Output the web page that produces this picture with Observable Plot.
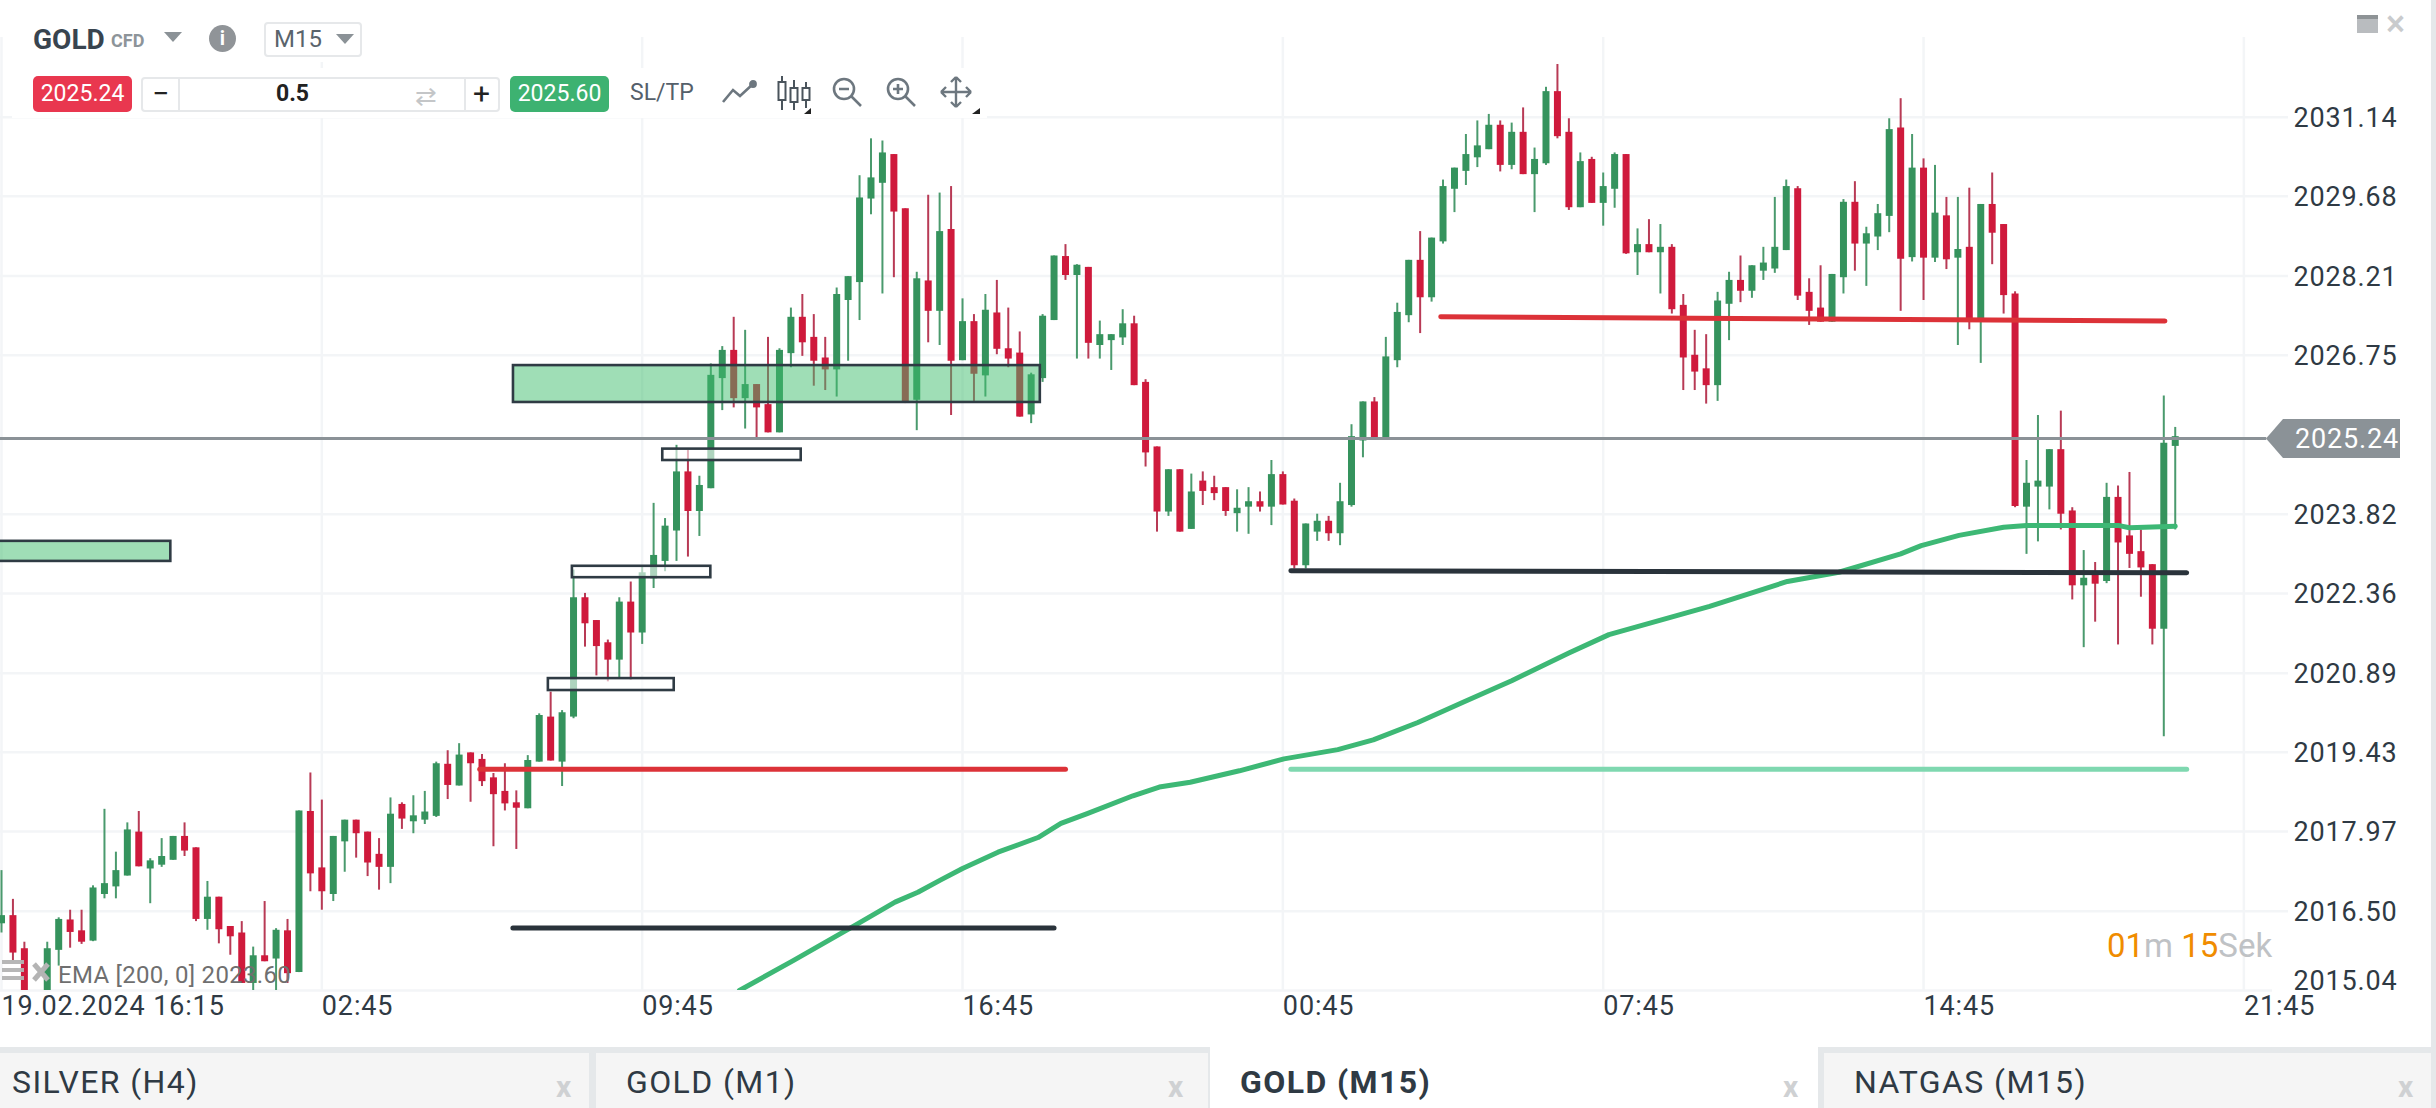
<!DOCTYPE html>
<html><head><meta charset="utf-8">
<script src="https://cdn.jsdelivr.net/npm/d3@7"></script>
<script src="https://cdn.jsdelivr.net/npm/@observablehq/plot@0.6"></script>
<style>
html,body{margin:0;padding:0;background:#fff;overflow:hidden}
#page{position:relative;width:2436px;height:1108px;overflow:hidden;font-family:Roboto,sans-serif;color:#2f3a44}
#page svg.plot{display:block}
.abs{position:absolute;white-space:nowrap}
.tri{position:absolute;width:0;height:0;border-left:9px solid transparent;border-right:9px solid transparent;border-top:10px solid #8b9297}
.btn{position:absolute;top:76px;width:99px;height:36px;line-height:36px;border-radius:5px;color:#fff;font-size:23px;text-align:center}
.tab{position:absolute;top:1053px;height:55px;background:#f5f5f5}
.tabt{position:absolute;top:1063px;font-size:32px;letter-spacing:1.4px;color:#2f3a44;white-space:nowrap}
.x{position:absolute;top:1069px;font-size:30px;color:#cfd1d3;font-weight:700}
</style></head><body><div id="page"><div id="chart"></div></div>
<script>
const opens=[
2016.27,2016.42,2015.81,2014.30,2014.92,2015.78,2016.34,2016.14,2015.95,2016.81,
2016.95,2017.15,2017.96,2017.28,2017.35,2017.44,2017.88,2017.67,2016.35,2016.76,
2016.22,2016.10,2015.17,2015.68,2015.62,2016.14,2015.37,2018.34,2017.30,2016.81,
2017.78,2018.18,2017.96,2017.55,2017.31,2018.47,2018.15,2018.18,2018.25,2019.21,
2018.81,2019.42,2019.30,2018.96,2018.71,2018.50,2018.39,2019.25,2020.08,2019.25,
2020.08,2022.28,2021.86,2021.45,2021.13,2022.20,2021.63,2022.63,2022.95,2023.51,
2024.60,2023.87,2024.29,2026.32,2026.84,2025.95,2026.21,2025.84,2025.32,2026.78,
2027.45,2027.08,2026.70,2026.48,2027.76,2028.09,2029.63,2029.92,2030.45,2029.45,
2025.92,2028.12,2027.56,2029.07,2026.65,2027.37,2026.37,2027.53,2026.87,2026.79,
2025.65,2026.32,2027.39,2028.57,2028.22,2028.37,2026.93,2027.02,2027.07,2027.33,
2026.25,2025.06,2023.86,2024.64,2023.54,2024.43,2024.31,2024.31,2023.83,2023.95,
2024.05,2023.95,2024.55,2024.06,2022.87,2023.49,2023.69,2023.46,2023.98,2025.17,
2025.89,2025.23,2026.65,2027.48,2028.50,2027.81,2028.84,2029.81,2030.14,2030.39,
2030.54,2030.99,2030.25,2030.86,2030.08,2030.28,2031.61,2030.86,2029.47,2030.36,
2029.55,2029.81,2030.45,2028.64,2028.79,2028.64,2028.74,2027.67,2026.75,2026.50,
2026.19,2027.69,2028.13,2027.93,2028.30,2028.34,2028.68,2029.82,2027.91,2027.62,
2027.36,2028.18,2029.57,2028.80,2028.93,2029.31,2030.94,2028.55,2030.20,2028.54,
2029.32,2028.54,2028.74,2027.42,2029.53,2029.16,2027.88,2023.95,2024.32,2024.32,
2025.01,2023.88,2022.50,2022.69,2022.58,2024.13,2023.42,2023.13,2022.89,2021.70,2025.07];
const closes=[
2016.42,2015.73,2014.92,2014.70,2015.81,2016.35,2016.11,2015.93,2016.93,2017.01,
2017.25,2018.00,2017.32,2017.43,2017.51,2017.88,2017.61,2016.35,2016.76,2016.16,
2016.03,2015.17,2015.68,2015.57,2016.15,2015.35,2018.35,2017.19,2016.86,2017.88,
2018.18,2017.93,2017.39,2017.31,2018.29,2018.20,2018.26,2018.33,2019.22,2018.82,
2019.38,2019.22,2018.89,2018.65,2018.48,2018.40,2019.28,2020.11,2019.27,2020.16,
2022.28,2021.80,2021.38,2021.13,2022.20,2021.63,2022.74,2023.06,2023.60,2024.60,
2023.87,2024.35,2026.38,2026.84,2025.95,2026.21,2025.78,2025.32,2026.84,2027.45,
2026.98,2026.64,2026.48,2027.87,2028.20,2029.65,2030.02,2030.48,2029.39,2025.86,
2028.16,2027.56,2029.03,2026.64,2027.37,2026.40,2027.58,2026.86,2026.68,2025.61,
2026.39,2027.47,2028.58,2028.22,2028.41,2026.97,2027.13,2027.13,2027.33,2026.19,
2024.95,2023.86,2024.64,2023.49,2024.23,2024.24,2024.20,2023.87,2023.93,2024.05,
2023.95,2024.55,2023.99,2022.87,2023.64,2023.69,2023.46,2024.05,2025.25,2025.89,
2025.23,2026.72,2027.54,2028.50,2027.81,2028.91,2029.86,2030.20,2030.45,2030.61,
2030.99,2030.25,2030.86,2030.08,2030.36,2031.61,2030.78,2029.47,2030.32,2029.55,
2029.86,2030.45,2028.62,2028.79,2028.64,2028.74,2027.59,2026.70,2026.44,2026.19,
2027.75,2028.13,2027.93,2028.40,2028.45,2028.74,2029.86,2027.84,2027.56,2027.36,
2028.24,2029.57,2028.80,2028.99,2029.36,2030.91,2028.52,2030.20,2028.54,2029.37,
2028.51,2028.70,2027.38,2029.53,2029.00,2027.85,2023.96,2024.39,2024.43,2025.01,
2023.82,2022.50,2022.64,2022.53,2024.13,2023.29,2023.08,2022.83,2021.70,2025.13,2025.25];
const highs=[
2017.25,2016.72,2015.93,2014.85,2015.93,2016.38,2016.52,2016.52,2016.97,2018.38,
2017.59,2018.13,2018.34,2017.47,2017.84,2017.88,2018.13,2017.67,2017.05,2016.76,
2016.22,2016.31,2015.84,2016.68,2016.18,2016.35,2018.35,2019.05,2018.55,2017.88,
2018.18,2018.18,2017.96,2017.84,2018.59,2018.50,2018.63,2018.71,2019.25,2019.46,
2019.59,2019.42,2019.39,2019.04,2019.22,2018.72,2019.37,2020.14,2020.54,2020.20,
2022.79,2022.36,2021.86,2021.50,2022.28,2022.57,2022.85,2024.02,2023.74,2025.09,
2025.00,2024.52,2026.59,2026.91,2027.45,2027.21,2026.21,2027.08,2026.87,2027.62,
2027.87,2027.50,2027.08,2027.99,2028.20,2030.06,2030.74,2030.70,2030.45,2029.45,
2028.28,2029.70,2029.74,2029.86,2027.79,2027.50,2027.87,2028.13,2027.62,2027.18,
2026.42,2027.50,2028.58,2028.79,2028.42,2028.37,2027.38,2027.13,2027.59,2027.47,
2026.30,2025.06,2024.64,2024.64,2024.56,2024.60,2024.52,2024.31,2024.27,2024.31,
2024.23,2024.81,2024.60,2024.10,2023.64,2023.82,2023.78,2024.39,2025.47,2025.89,
2025.97,2027.08,2027.71,2028.50,2029.03,2028.91,2029.98,2030.20,2030.82,2031.07,
2031.19,2031.07,2031.03,2031.31,2030.57,2031.69,2032.11,2031.11,2030.48,2030.40,
2030.11,2030.48,2030.45,2029.08,2029.25,2029.16,2028.79,2027.87,2027.21,2027.13,
2027.91,2028.28,2028.58,2028.40,2028.74,2029.66,2029.98,2029.86,2028.16,2028.40,
2028.24,2029.62,2029.95,2029.11,2029.53,2031.11,2031.48,2030.82,2030.37,2030.25,
2029.66,2029.66,2029.83,2029.53,2030.11,2029.16,2027.92,2024.81,2025.64,2025.01,
2025.72,2023.94,2023.15,2022.93,2024.39,2024.34,2024.59,2023.53,2022.89,2026.00,2025.42];
const lows=[
2016.10,2015.59,2014.86,2014.10,2014.73,2015.49,2015.82,2015.89,2015.94,2016.73,
2016.73,2017.15,2017.32,2016.64,2017.31,2017.44,2017.51,2016.31,2016.15,2015.90,
2015.69,2015.17,2014.92,2015.57,2014.86,2015.17,2015.37,2016.86,2016.52,2016.68,
2017.22,2017.48,2017.14,2016.89,2017.01,2018.01,2017.93,2018.10,2018.23,2018.56,
2018.81,2018.51,2018.80,2017.69,2018.35,2017.64,2018.39,2019.25,2019.27,2018.80,
2020.05,2021.37,2020.84,2020.73,2020.79,2020.76,2021.42,2022.45,2022.76,2022.95,
2023.03,2023.41,2024.29,2025.73,2025.78,2025.39,2025.18,2025.32,2025.32,2026.52,
2026.73,2026.18,2026.10,2025.98,2026.64,2027.39,2029.34,2027.88,2028.18,2025.86,
2025.36,2026.98,2026.93,2025.64,2026.65,2025.90,2025.98,2026.76,2026.52,2025.61,
2025.49,2026.25,2027.39,2028.13,2026.68,2026.68,2026.68,2026.47,2026.93,2026.19,
2024.69,2023.49,2023.78,2023.49,2023.54,2023.98,2024.07,2023.78,2023.49,2023.45,
2023.86,2023.61,2023.99,2022.81,2022.81,2023.32,2023.32,2023.24,2023.95,2024.86,
2025.23,2025.23,2026.52,2027.35,2027.15,2027.73,2028.80,2029.38,2029.88,2030.21,
2030.54,2030.13,2030.17,2030.08,2029.38,2030.25,2030.74,2029.42,2029.47,2029.55,
2029.13,2029.46,2028.61,2028.22,2028.64,2027.88,2027.51,2026.10,2026.10,2025.85,
2025.90,2027.02,2027.72,2027.80,2028.13,2028.26,2028.68,2027.76,2027.30,2027.36,
2027.36,2027.88,2028.30,2028.02,2028.68,2029.01,2027.56,2028.47,2027.76,2028.46,
2028.33,2026.93,2027.22,2026.60,2028.42,2027.51,2023.94,2023.08,2023.31,2023.90,
2023.53,2022.24,2021.36,2021.83,2022.54,2021.41,2022.82,2022.29,2021.41,2019.72,2023.53];

const emaIndex=[64.5,69.2,74.6,78.1,80.1,82.1,84,87.1,90.6,92.6,94.9,98.9,101.2,103.9,108.2,112.1,116.8,119.9,123.8,127.7,132,137,140.5,149.3,156.1,160.6,166,167.8,171.1,175,177,185.1,186,190];
const emaValue=[2015.04,2015.59,2016.24,2016.67,2016.85,2017.08,2017.29,2017.59,2017.86,2018.12,2018.30,2018.63,2018.79,2018.88,2019.09,2019.31,2019.48,2019.66,2019.98,2020.35,2020.75,2021.26,2021.60,2022.12,2022.58,2022.75,2023.09,2023.24,2023.43,2023.58,2023.61,2023.61,2023.57,2023.60];

const priceTicks=[2031.14,2029.68,2028.21,2026.75,2023.82,2022.36,2020.89,2019.43,2017.97,2016.50];
const lastPriceTick=[2015.04];
const timeTicks=[0,28,56,84,112,140,168,196];
const timeLabels=["19.02.2024 16:15","02:45","09:45","16:45","00:45","07:45","14:45","21:45"];

const currentPrice=2025.24, bidText="2025.24", askText="2025.60";

// support / resistance lines: start index, start price, end index, end price
const lineStart=[41.8,44.7,112.7,112.7,125.8];
const lineEnd=[93.0,92.0,191.0,191.0,189.1];
const lineP1=[2019.12,2016.19,2019.12,2022.78,2027.46];
const lineP2=[2019.12,2016.19,2019.12,2022.74,2027.38];
const lineColor=["#dc3238","#2a333b","#7fd8b0","#2a333b","#dc3238"];

// supply / demand zones
const zoneStart=[44.75,-2,57.8,49.9,47.8];
const zoneEnd=[90.8,14.8,69.9,62,58.8];
const zoneTop=[2026.56,2023.32,2025.02,2022.86,2020.79];
const zoneBottom=[2025.88,2022.95,2024.81,2022.65,2020.57];
const zoneFill=["#40bd6e","#40bd6e","#ffffff","#ffffff","#ffffff"];
const zoneAlpha=[0.5,0.5,0.6,0.6,0.6];

const candles=opens.map((o,i)=>({i,open:o,close:closes[i],high:highs[i],low:lows[i],up:closes[i]>=o}));
const lines=lineStart.map((s,k)=>({s,e:lineEnd[k],p1:lineP1[k],p2:lineP2[k],c:lineColor[k]}));
const zones=zoneStart.map((s,k)=>({s,e:zoneEnd[k],t:zoneTop[k],b:zoneBottom[k],f:zoneFill[k],a:zoneAlpha[k]}));

const UP="#35935d",UPW="#4a9a6d",DN="#cf1a3c",DNW="#b83a55";
const gridC="#f3f5f7";

const chart=Plot.plot({
  width:2436,height:1047,marginLeft:0,marginRight:148,marginTop:0,marginBottom:57,
  style:{fontFamily:"Roboto, sans-serif",background:"#fff",color:"#2f3a44",letterSpacing:"0.85px",overflow:"hidden"},
  x:{type:"linear",domain:[-0.087,199.9]},
  y:{type:"linear",domain:[2015.04,2033.29]},
  marks:[
    Plot.gridX(timeTicks,{stroke:gridC,strokeOpacity:1,strokeWidth:2.5}),
    Plot.gridY(priceTicks,{stroke:gridC,strokeOpacity:1,strokeWidth:2.5}),
    Plot.ruleY(lastPriceTick,{x1:-0.087,x2:198.5,stroke:gridC,strokeWidth:2.5}),
    Plot.ruleX(candles,{x:"i",y1:"low",y2:"high",stroke:d=>d.up?UPW:DNW,strokeWidth:2,clip:true}),
    Plot.ruleX(candles,{x:"i",y1:"open",y2:"close",stroke:d=>d.up?UP:DN,strokeWidth:7,clip:true}),
    Plot.line(emaIndex,{x:emaIndex,y:emaValue,stroke:"#3db875",strokeWidth:5,curve:"linear",clip:true}),
    Plot.ruleY([currentPrice],{x1:-0.087,x2:198,stroke:"#8b9297",strokeWidth:3,dy:1.3}),
    Plot.link(lines,{x1:"s",x2:"e",y1:"p1",y2:"p2",stroke:"c",strokeWidth:5,strokeLinecap:"round"}),
    Plot.rect(zones,{x1:"s",x2:"e",y1:"b",y2:"t",fill:"f",fillOpacity:"a",stroke:"#2f3b44",strokeWidth:2.6,clip:true}),
    Plot.axisY(priceTicks,{anchor:"right",tickSize:0,tickPadding:5,tickFormat:d3.format(".2f"),fontSize:27,label:null,stroke:null,dy:1}),
    Plot.axisY(lastPriceTick,{anchor:"right",tickSize:0,tickPadding:5,tickFormat:d3.format(".2f"),fontSize:27,label:null,stroke:null,dy:-9}),
    Plot.axisX(timeTicks,{anchor:"bottom",tickSize:0,tickPadding:5,tickFormat:i=>timeLabels[timeTicks.indexOf(i)],textAnchor:"start",fontSize:27,label:null,stroke:null})
  ]
});
document.getElementById("chart").appendChild(chart);

const mag=(plus)=>`<svg width="34" height="34" viewBox="0 0 34 34" fill="none" stroke="#6d777f" stroke-width="2.6"><circle cx="14" cy="14" r="10"/><path d="M21.5 21.5L31 31M9 14h10${plus?"M14 9v10":""}"/></svg>`;
const overlay=`
<div class="abs" style="left:0;top:0;width:2436px;height:37px;background:#fff"></div>
<div class="abs" style="left:12px;top:18px;width:355px;height:44px;background:#fff"></div>
<div class="abs" style="left:12px;top:68px;width:975px;height:50px;background:#fff"></div>
<div class="abs" style="left:33px;top:23px;font-size:28px;font-weight:700;color:#38444f">GOLD</div>
<div class="abs" style="left:111px;top:30px;font-size:18px;font-weight:700;color:#8d9499">CFD</div>
<div class="tri" style="left:164px;top:32px"></div>
<div class="abs" style="left:209px;top:25px;width:27px;height:27px;border-radius:50%;background:#909498;color:#fff;font-size:20px;font-weight:700;text-align:center;line-height:27px">i</div>
<div class="abs" style="left:264px;top:22px;width:94px;height:31px;border:2px solid #e6e8ea;border-radius:4px"></div>
<div class="abs" style="left:274px;top:25px;font-size:24px;color:#5a646c">M15</div>
<div class="tri" style="left:336px;top:34px"></div>
<div class="btn" style="left:33px;background:#e9374f">${bidText}</div>
<div class="abs" style="left:141px;top:77px;width:355px;height:31px;border:2px solid #e6e8ea;border-radius:4px"></div>
<div class="abs" style="left:178px;top:77px;width:2px;height:35px;background:#e6e8ea"></div>
<div class="abs" style="left:464px;top:77px;width:2px;height:35px;background:#e6e8ea"></div>
<div class="abs" style="left:152px;top:76px;font-size:30px;color:#222">−</div>
<div class="abs" style="left:276px;top:80px;font-size:23px;font-weight:700;color:#222">0.5</div>
<div class="abs" style="left:415px;top:81px;font-size:26px;color:#c4c6c8">⇄</div>
<div class="abs" style="left:473px;top:76px;font-size:30px;color:#222">+</div>
<div class="btn" style="left:510px;background:#3db271">${askText}</div>
<div class="abs" style="left:630px;top:79px;font-size:23px;color:#55606a">SL/TP</div>
<svg class="abs" style="left:722px;top:80px" width="36" height="24" fill="none" stroke="#6d777f" stroke-width="2.6"><path d="M1 22L11 10L18 16L31 4"/><circle cx="31" cy="4" r="2.6" fill="#6d777f"/></svg>
<svg class="abs" style="left:776px;top:74px" width="36" height="42" fill="none" stroke="#4a545c" stroke-width="2"><path d="M6 2v34M18 6v30"/><rect x="2.5" y="8" width="7" height="18" fill="#fff"/><rect x="14.5" y="14" width="7" height="14" fill="#fff"/><path d="M30 8v26"/><rect x="26.5" y="14" width="7" height="12" fill="#fff"/><path d="M28 40l7-6v6z" fill="#222" stroke="none"/></svg>
<div class="abs" style="left:830px;top:75px">${mag(false)}</div>
<div class="abs" style="left:884px;top:75px">${mag(true)}</div>
<svg class="abs" style="left:938px;top:74px" width="44" height="42" fill="none" stroke="#6d777f" stroke-width="2.4"><path d="M18 3v30M3 18h30M18 3l-5 5M18 3l5 5M18 33l-5-5M18 33l5-5M3 18l5-5M3 18l5 5M33 18l-5-5M33 18l-5 5"/><path d="M34 40l8-6v6z" fill="#222" stroke="none"/></svg>
<div class="abs" style="left:2357px;top:15px;width:21px;height:14px;background:#b9bcbf;border-top:4px solid #8e9396"></div>
<div class="abs" style="left:2386px;top:3px;font-size:36px;color:#c9cbcd;font-weight:500">×</div>
<div class="abs" style="left:2431px;top:0;width:5px;height:1108px;background:#e5e8ea"></div>
<svg class="abs" style="left:2px;top:958px" width="50" height="30"><path d="M0 4h22M0 12h22M0 20h22" stroke="#b4b4b4" stroke-width="4" opacity=".95"/><path d="M32 6l14 16M46 6L32 22" stroke="#b4b4b4" stroke-width="5"/></svg>
<div class="abs" style="left:58px;top:961px;font-size:24px;color:#6f6f6f;letter-spacing:.3px">EMA [200, 0] 2023.60</div>
<div class="abs" style="left:2107px;top:926px;font-size:33px;color:#bfc2c5"><span style="color:#f08c00">01</span>m <span style="color:#f08c00">15</span>Sek</div>
<div class="abs" style="left:2266px;top:419px;width:134px;height:39px;background:#8b9297;clip-path:polygon(0 50%,17px 0,100% 0,100% 100%,17px 100%);color:#fff;font-size:27px;letter-spacing:.85px;line-height:40px;text-align:right;padding-right:0"><span style="margin-right:1px">${currentPrice.toFixed(2)}</span></div>
<div class="abs" style="left:0;top:1047px;width:1208px;height:6px;background:#e5e8ea"></div>
<div class="abs" style="left:1818px;top:1047px;width:613px;height:6px;background:#e5e8ea"></div>
<div class="tab" style="left:0;width:589px"></div>
<div class="abs" style="left:589px;top:1047px;width:7px;height:61px;background:#e5e8ea"></div>
<div class="tab" style="left:596px;width:612px"></div>
<div class="abs" style="left:1208px;top:1047px;width:2px;height:61px;background:#e5e8ea"></div>
<div class="abs" style="left:1818px;top:1047px;width:6px;height:61px;background:#e5e8ea"></div>
<div class="tab" style="left:1824px;width:607px"></div>
<div class="tabt" style="left:12px">SILVER (H4)</div>
<div class="tabt" style="left:626px">GOLD (M1)</div>
<div class="tabt" style="left:1240px;font-weight:700">GOLD (M15)</div>
<div class="tabt" style="left:1854px">NATGAS (M15)</div>
<div class="x" style="left:556px">x</div>
<div class="x" style="left:1168px">x</div>
<div class="x" style="left:1783px">x</div>
<div class="x" style="left:2398px">x</div>`;
const wrap=document.createElement("div");
wrap.innerHTML=overlay;
document.getElementById("page").appendChild(wrap);
</script></body></html>
